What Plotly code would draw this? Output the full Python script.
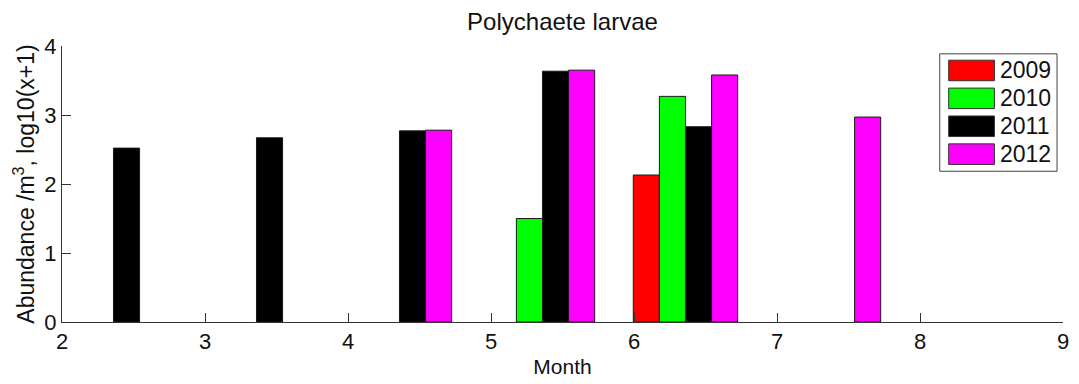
import plotly.graph_objects as go

# Sampling month (fractional) and log-abundance per year
months = [2.36, 3.36, 4.36, 5.36, 6.36, 7.36]
years = ["2009", "2010", "2011", "2012"]
abund_2009 = [None, None, None, None, 2.13, None]
abund_2010 = [None, None, None, 1.50, 3.27, None]
abund_2011 = [2.52, 2.67, 2.77, 3.635, 2.83, None]
abund_2012 = [None, None, 2.78, 3.65, 3.58, 2.97]
colors = ["#ff0000", "#00ff00", "#000000", "#ff00ff"]

W, H = 1079, 384
L, R, T, B = 62, 10, 46, 56
FONT = "Liberation Sans, Arial, sans-serif"

fig = go.Figure()
for name, vals, col in zip(years, [abund_2009, abund_2010, abund_2011, abund_2012], colors):
    fig.add_trace(go.Bar(
        x=months, y=vals, name=name,
        marker=dict(color=col, line=dict(color="#1a1a1a", width=1)),
        showlegend=False,
    ))

# pixel -> paper helpers for the boxed legend
pw, ph = W - L - R, H - T - B
def px(x):
    return (x - L) / pw
def py(y):
    return 1 - (y - T) / ph

shapes = [dict(type="rect", xref="paper", yref="paper",
               x0=px(945), x1=px(1063), y0=py(174), y1=py(54),
               line=dict(color="#444", width=1), fillcolor="white", layer="above")]
annotations = []
row_y = [71, 99.5, 128, 156.5]
for name, col, yc in zip(years, colors, row_y):
    shapes.append(dict(type="rect", xref="paper", yref="paper",
                       x0=px(954), x1=px(1000), y0=py(yc + 10.5), y1=py(yc - 10.5),
                       line=dict(color="#333", width=1), fillcolor=col, layer="above"))
    annotations.append(dict(xref="paper", yref="paper", x=px(1004), y=py(yc),
                            text=name, showarrow=False, xanchor="left", yanchor="middle",
                            font=dict(family=FONT, size=23, color="#111")))

fig.update_layout(
    width=W, height=H,
    margin=dict(l=L, r=R, t=T, b=B),
    paper_bgcolor="white", plot_bgcolor="white",
    barmode="group", bargap=0.27, bargroupgap=0,
    font=dict(family=FONT, size=22, color="#111"),
    title=dict(text="Polychaete larvae", x=0.5, xref="paper", xanchor="center",
               y=1 - 22 / H, yanchor="middle", font=dict(size=24)),
    shapes=shapes, annotations=annotations,
)
fig.update_xaxes(
    range=[2, 9], tickmode="array", tickvals=[2, 3, 4, 5, 6, 7, 8, 9],
    showline=True, linecolor="#333", linewidth=1, mirror=False,
    ticks="inside", ticklen=9, tickcolor="#333", showgrid=False, zeroline=False,
    tickfont=dict(size=22),
    title=dict(text="Month", font=dict(size=21), standoff=5),
)
fig.update_yaxes(
    range=[0, 4], tickmode="array", tickvals=[0, 1, 2, 3, 4],
    showline=True, linecolor="#333", linewidth=1, mirror=False,
    ticks="inside", ticklen=9, tickcolor="#333", showgrid=False, zeroline=False,
    tickfont=dict(size=22),
    title=dict(text="Abundance /m<sup>3</sup>, log10(x+1)", font=dict(size=23), standoff=3),
)

fig.write_html("out.html")
